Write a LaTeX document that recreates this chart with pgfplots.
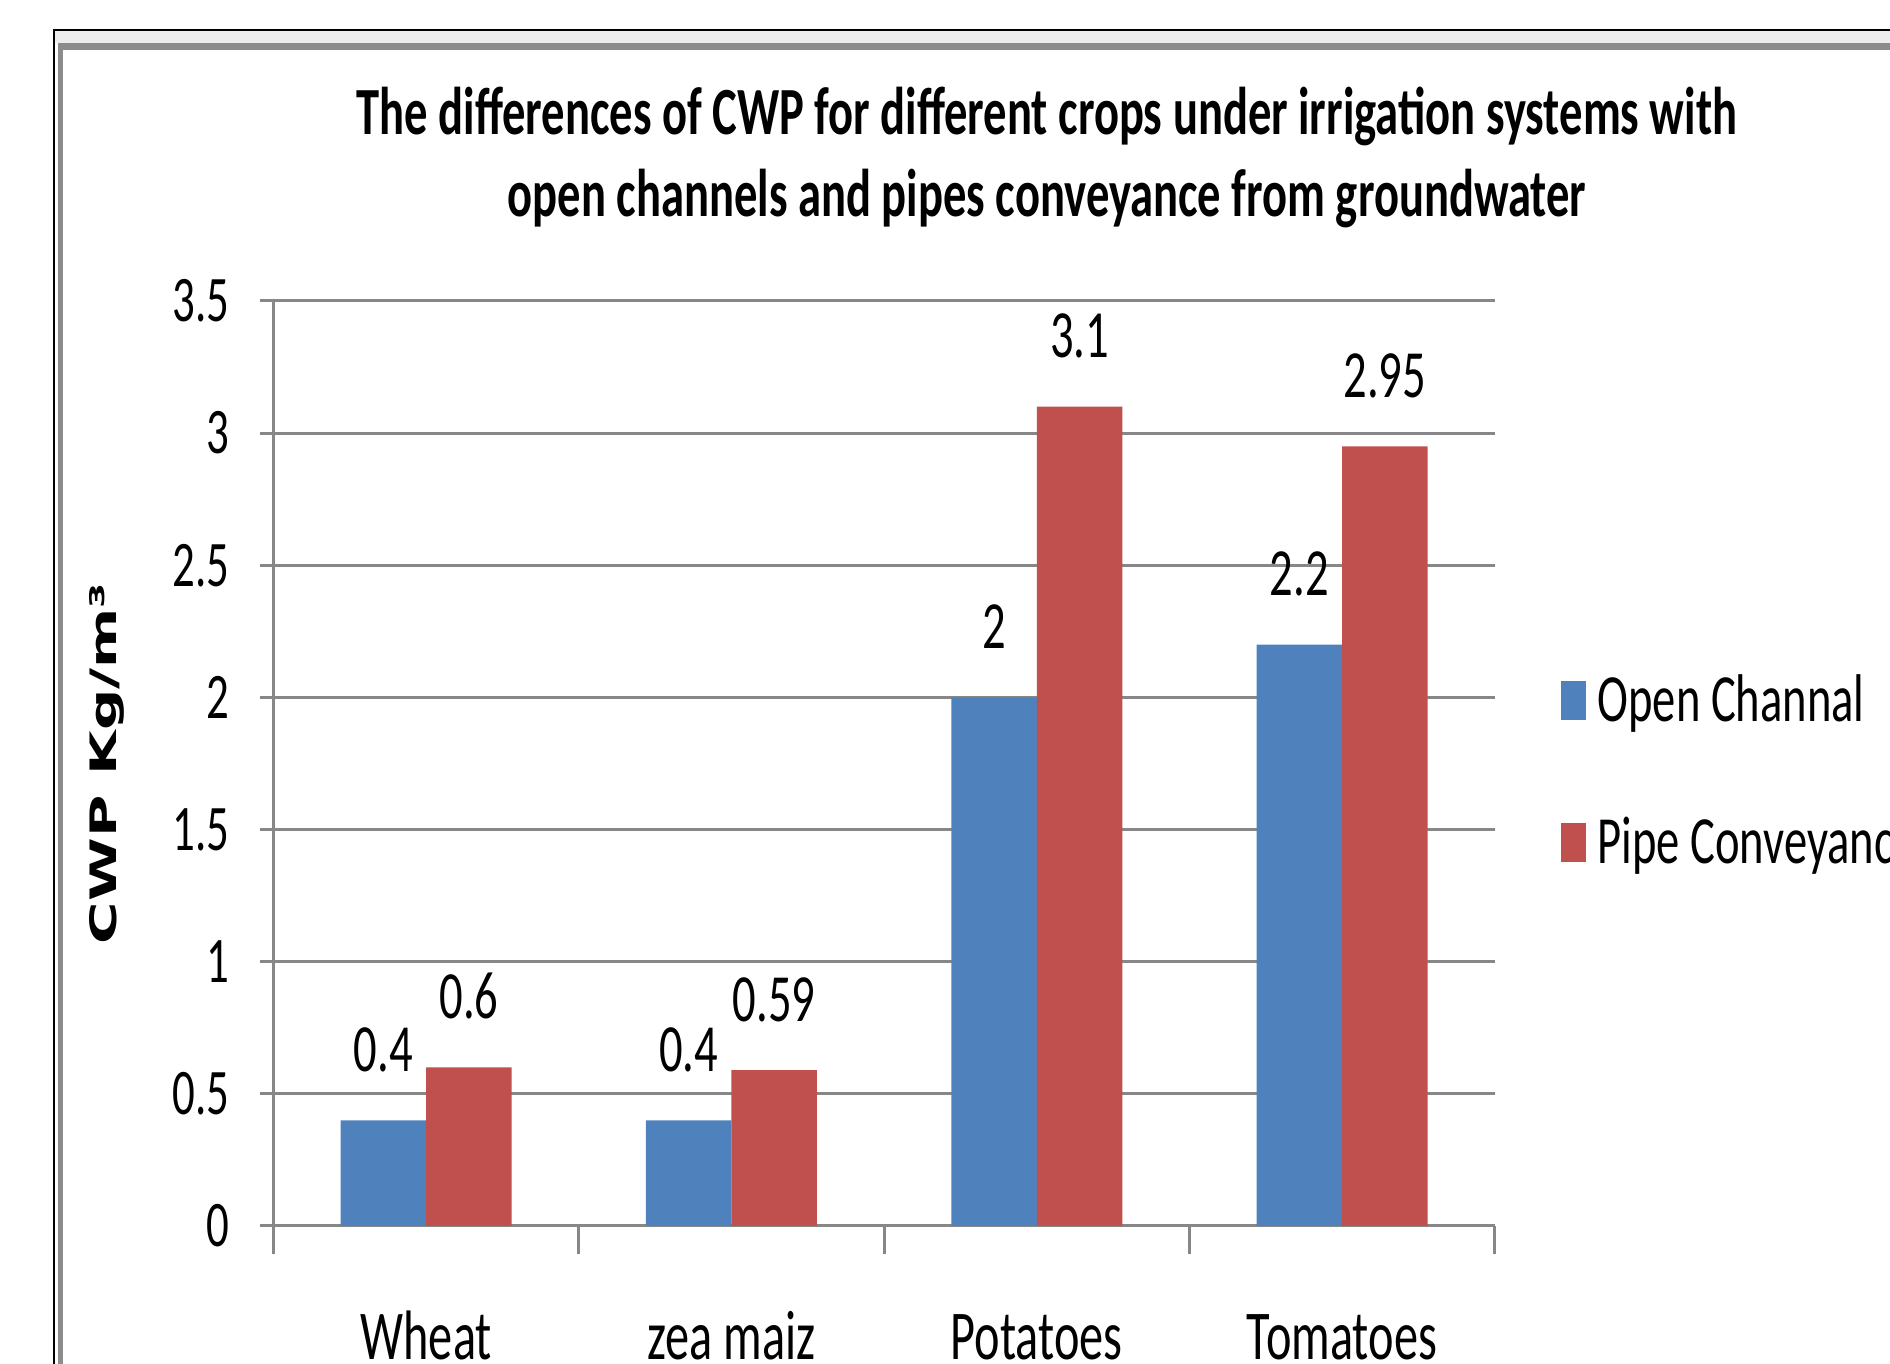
\documentclass[border=0pt]{standalone}
\usepackage{pgfplots}
\pgfplotsset{compat=1.18}
\usepackage{fontspec}
\setmainfont{Carlito}[FakeStretch=0.69]
\newfontfamily\ylabfont{DejaVu Sans}
\definecolor{ocblue}{HTML}{4F81BD}
\definecolor{pcred}{HTML}{C0504D}
\definecolor{gridgray}{HTML}{878787}
\definecolor{framegray}{HTML}{8C8C8C}
\definecolor{bandgray}{HTML}{EDEDED}
\begin{document}
\begin{tikzpicture}[x=0.4pt,y=0.4pt]
\useasboundingbox (0,0) rectangle (1890,1364);
\begin{scope}
\clip (0,0) rectangle (1890,1364);
\fill[bandgray] (55,1333.3) rectangle (1900,1320.7);
\draw[black, line width=0.8pt] (54,-20) -- (54,1334.3) -- (1900,1334.3);
\fill[framegray] (58,1314) rectangle (1900,1320.7);
\fill[framegray] (58,-20) rectangle (63,1320.7);
\end{scope}
\node[anchor=base, inner sep=0pt, font=\bfseries\fontsize{27}{33}\selectfont] at (1047,1229) {The differences of CWP for different crops under irrigation systems with};
\node[anchor=base, inner sep=0pt, font=\bfseries\fontsize{27}{33}\selectfont] at (1047,1147) {open channels and pipes conveyance from groundwater};
\begin{axis}[
  at={(109.44pt,55.2pt)}, anchor=south west,
  scale only axis, width=488.4pt, height=370pt,
  xmin=-0.5, xmax=3.5, ymin=0, ymax=3.5,
  axis x line*=bottom, axis y line*=left,
  axis line style={gridgray, line width=1.2pt, -},
  ytick={0,0.5,...,3.5},
  yticklabels={0,0.5,1,1.5,2,2.5,3,3.5},
  ymajorgrids, grid style={gridgray, line width=1.2pt},
  tick style={gridgray, line width=1.2pt},
  tick align=outside, major tick length=5.6pt,
  xtick={0,1,2,3}, xticklabels={Wheat,zea maiz,Potatoes,Tomatoes},
  xtick style={draw=none},
  extra x ticks={-0.5,0.5,1.5,2.5,3.5}, extra x tick labels={},
  extra x tick style={grid=none, xtick style={draw=gridgray}, major tick length=11pt},
  yticklabel style={font=\fontsize{26}{26}\selectfont, anchor=east, inner sep=0pt, xshift=-12pt},
  xticklabel style={font=\fontsize{28}{28}\selectfont, anchor=base, inner sep=0pt, yshift=-47.7pt},
  ylabel={\scalebox{1}[0.63]{\ylabfont\bfseries\fontsize{23.1}{23.1}\selectfont CWP Kg/m³}},
  ylabel style={at={(axis description cs:-0.1283,0.5)}, anchor=base, inner sep=0pt},
  ybar=0pt, bar width=34.2pt,
  nodes near coords,
  every node near coord/.append style={font=\fontsize{27}{27}\selectfont, anchor=base, inner sep=0pt, yshift=19.6pt, text=black, /pgf/number format/assume math mode=true},
  legend style={draw=none, fill=none, at={(axis description cs:1.0536,0.597)}, anchor=north west, inner sep=0pt, font=\fontsize{27}{27}\selectfont, row sep=37pt, column sep=4.8pt, nodes={inner sep=0pt}},
  legend cell align=left,
  mybar/.style={fill=#1, draw=none, legend image code/.code={\fill[##1] (0pt,-8pt) rectangle (10pt,7.6pt);}},
]
\addplot[mybar=ocblue] coordinates {(0,0.4) (1,0.4) (2,2) (3,2.2)};
\addplot[mybar=pcred] coordinates {(0,0.6) (1,0.59) (2,3.1) (3,2.95)};
\legend{Open Channal, Pipe Conveyance}
\end{axis}
\end{tikzpicture}
\end{document}
